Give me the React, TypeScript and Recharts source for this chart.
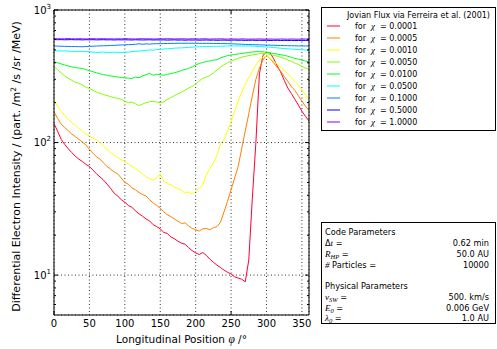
import React from 'react';
import { LineChart, Line, XAxis, YAxis, CartesianGrid, Legend } from 'recharts';

// longitude grid, degrees
const phi = [
  0, 5, 10, 15, 20, 25, 30, 35, 40, 45, 50, 55, 60, 65, 70, 75, 80, 85, 90, 95,
  100, 105, 110, 115, 120, 125, 130, 135, 140, 145, 150, 155, 160, 165, 170, 175, 180, 185, 190, 195,
  200, 205, 210, 215, 220, 225, 230, 235, 240, 245, 250, 255, 260, 265, 270, 275, 280, 285, 290, 295,
  300, 305, 310, 315, 320, 325, 330, 335, 340, 345, 350, 355, 360,
];

const chiLabels = ['0.0001', '0.0005', '0.0010', '0.0050', '0.0100', '0.0500', '0.1000', '0.5000', '1.0000'];
const colors = ['#ff0030', '#ff8000', '#ffff00', '#80ff00', '#00ff20', '#00ffff', '#0080ff', '#0000ff', '#8000ff'];

const chi0001 = [
  139, 122, 106, 97, 90, 84, 79, 75, 72, 68.5, 66, 62, 58, 55, 52, 48.5, 45, 41.5, 39.5, 37,
  35.5, 33.5, 32.5, 30.5, 29, 27.8, 26.5, 25.6, 24, 23.2, 22.3, 21, 20.6, 19.4, 18.8, 18, 17.4, 17.1, 16.1, 15.3,
  14.7, 14.3, 14.8, 14.1, 13.2, 12.5, 11.9, 11.4, 10.9, 10.5, 10.2, 9.7, 9.5, 9.3, 8.9, 13, 38, 100, 330, 455,
  480, 475, 430, 380, 340, 295, 258, 235, 212, 192, 172, 158, 145,
];
const chi0005 = [
  171, 152, 138, 130, 123, 116, 111, 106, 101, 96, 89, 83, 78, 75, 70, 66, 63, 60, 58, 54,
  50, 48.5, 45.5, 44, 42, 40.5, 39.5, 37, 35, 33.5, 32, 30, 28.5, 27.6, 26.5, 25.5, 24.5, 24.8, 23.5, 22.5,
  22, 21.5, 22.3, 22.5, 22, 22.8, 23.2, 25, 30, 36, 44, 54, 66, 90, 122, 165, 225, 300, 365, 420,
  455, 430, 400, 370, 345, 315, 290, 265, 248, 225, 205, 188, 175,
];
const chi0010 = [
  209, 188, 172, 160, 150, 141, 135, 128, 122, 116, 112, 108, 104, 100, 94, 88, 84, 80, 77, 74,
  72, 69, 66, 64, 61, 58, 55, 53.5, 52, 54, 58, 51, 49, 48, 46, 45, 43.5, 41.5, 42.5, 41,
  43, 45, 48, 57, 64, 70, 80, 98, 105, 122, 145, 172, 205, 240, 275, 310, 345, 385, 420, 440,
  450, 430, 410, 390, 370, 350, 330, 310, 290, 270, 250, 230, 209,
];
const chi0050 = [
  373, 355, 335, 320, 305, 295, 285, 280, 272, 262, 255, 248, 240, 235, 230, 226, 222, 218, 215, 212,
  205, 200, 202, 196, 190, 195, 200, 203, 205, 202, 200, 203, 212, 218, 226, 233, 240, 248, 258, 265,
  275, 292, 305, 312, 320, 335, 352, 370, 385, 400, 412, 422, 432, 440, 447, 453, 458, 463, 468, 472,
  468, 462, 455, 448, 440, 432, 420, 410, 398, 388, 375, 365, 358,
];
const chi0100 = [
  407, 400, 392, 385, 378, 373, 368, 365, 362, 355, 348, 342, 336, 330, 325, 322, 318, 315, 312, 310,
  307, 306, 304, 312, 308, 318, 325, 333, 322, 327, 325, 322, 326, 332, 336, 342, 350, 356, 362, 372,
  385, 395, 402, 408, 413, 418, 422, 435, 445, 452, 458, 462, 466, 470, 474, 478, 482, 485, 485, 484,
  480, 475, 470, 465, 460, 455, 448, 440, 432, 425, 418, 412, 407,
];
const chi0500 = [
  493, 492, 490, 491, 489, 488, 488, 486, 485, 486, 484, 482, 478, 480, 481, 479, 478, 480, 479, 477,
  482, 480, 485, 488, 490, 494, 496, 500, 498, 503, 505, 508, 510, 512, 515, 517, 518, 520, 522, 524,
  526, 528, 529, 530, 531, 532, 532, 533, 534, 535, 535, 536, 536, 535, 535, 535, 534, 532, 530, 528,
  526, 524, 521, 518, 515, 512, 510, 507, 505, 503, 501, 499, 497,
];
const chi1000 = [
  535, 534, 533, 532, 531, 530, 530, 529, 528, 530, 532, 533, 535, 536, 537, 538, 540, 541, 543, 545,
  546, 548, 549, 551, 556, 552, 555, 553, 556, 557, 558, 558, 559, 560, 560, 561, 561, 561, 562, 561,
  561, 560, 560, 560, 560, 559, 559, 558, 558, 557, 556, 555, 553, 552, 550, 549, 548, 547, 546, 545,
  544, 543, 542, 541, 540, 539, 538, 537, 537, 536, 536, 535, 535,
];
const chi5000 = [
  598, 597, 598, 596, 597, 598, 596, 597, 595, 597, 596, 597, 595, 596, 597, 595, 596, 594, 596, 595,
  596, 595, 594, 596, 595, 594, 595, 596, 594, 595, 594, 595, 593, 594, 595, 593, 594, 592, 594, 593,
  594, 592, 593, 594, 592, 593, 591, 592, 593, 591, 592, 593, 591, 592, 590, 591, 592, 590, 591, 590,
  591, 589, 590, 591, 589, 590, 589, 590, 588, 589, 590, 589, 590,
];
const chi10000 = [
  606, 607, 605, 606, 608, 606, 605, 607, 606, 604, 606, 607, 605, 606, 607, 605, 606, 604, 606, 605,
  607, 606, 605, 604, 606, 607, 605, 606, 604, 605, 606, 605, 607, 606, 604, 605, 606, 605, 604, 606,
  605, 604, 606, 605, 603, 605, 604, 606, 604, 603, 605, 604, 603, 605, 604, 602, 604, 603, 605, 603,
  602, 604, 603, 602, 604, 603, 602, 604, 603, 602, 603, 604, 603,
];

const seriesValues = [chi0001, chi0005, chi0010, chi0050, chi0100, chi0500, chi1000, chi5000, chi10000];

const xTicks = [0, 50, 100, 150, 200, 250, 300, 350];
const yMajor = [10, 100, 1000];
const yMinor = [6, 7, 8, 9, 20, 30, 40, 50, 60, 70, 80, 90, 200, 300, 400, 500, 600, 700, 800, 900];
const yAll = [...yMinor.slice(0, 4), 10, ...yMinor.slice(4, 12), 100, ...yMinor.slice(12), 1000];

const rows = phi.map((p, i) => {
  const row: Record<string, number> = { phi: p };
  seriesValues.forEach((vals, k) => {
    row[`s${k}`] = vals[i];
  });
  return row;
});

const FONT = 'DejaVu Sans';
const MATH = 'Liberation Serif';

const PowerTick = (props: any) => {
  const { x, y, payload } = props;
  const exp = Math.round(Math.log10(payload.value));
  return (
    <text x={x} y={y} textAnchor="end" fontSize={10} fontFamily={FONT} fill="#000">
      <tspan dy={3.5}>10</tspan>
      <tspan dy={-5} fontSize={7}>{exp}</tspan>
    </text>
  );
};

const XTickLabel = (props: any) => {
  const { x, y, payload } = props;
  return (
    <text x={x} y={y} dy={9} textAnchor="middle" fontSize={10} fontFamily={FONT} fill="#000">
      {payload.value}
    </text>
  );
};

const inTick = (side: string, majors: number[]) => (props: any) => {
  const { x, y, payload } = props;
  const len = majors.includes(payload.value) ? 4 : 2;
  let dx = 0;
  let dy = 0;
  if (side === 'left') dx = len;
  if (side === 'right') dx = -len;
  if (side === 'top') dy = len;
  if (side === 'bottom') dy = -len;
  return <line x1={x} y1={y} x2={x + dx} y2={y + dy} stroke="#000" strokeWidth={1} />;
};

const renderLegend = (props: any) => {
  const items = props.payload || [];
  return (
    <svg width={175} height={124} style={{ display: 'block' }}>
      <rect x={0.5} y={0.5} width={174} height={123} fill="#fff" stroke="#000" />
      <text x={26} y={11} fontSize={8} fontFamily={FONT} fill="#000">
        Jovian Flux via Ferreira et al. (2001)
      </text>
      {items.map((it: any, i: number) => {
        const cy = 19 + 12 * i;
        return (
          <g key={it.value}>
            <line x1={6} x2={19} y1={cy} y2={cy} stroke={it.color} strokeWidth={1} />
            <text x={34} y={cy + 3} fontSize={8} fontFamily={FONT} fill="#000">for</text>
            <text x={50} y={cy + 3} fontSize={9} fontFamily={MATH} fontStyle="italic" fill="#000">χ</text>
            <text x={59} y={cy + 3} fontSize={8} fontFamily={FONT} fill="#000">= {it.value}</text>
          </g>
        );
      })}
    </svg>
  );
};

const paramRows = [
  { y: 10, head: 'Code Parameters' },
  { y: 21, sym: 'Δ', it: 't', sub: '', rest: ' =', val: '0.62 min' },
  { y: 32, sym: '', it: 'R', sub: 'HP', rest: ' =', val: '50.0 AU' },
  { y: 43, sym: '', it: '#', sub: '', rest: ' Particles =', val: '10000' },
  { y: 64, head: 'Physical Parameters' },
  { y: 75, sym: '', it: 'v', sub: 'SW', rest: ' =', val: '500. km/s' },
  { y: 85.5, sym: '', it: 'E', sub: '0', rest: ' =', val: '0.006 GeV' },
  { y: 96, sym: '', it: 'λ', sub: '0', rest: ' =', val: '1.0 AU' },
];

function ParamBox() {
  const fs = 8.2;
  return (
    <svg width={175} height={102} style={{ position: 'absolute', left: 321, top: 222 }}>
      <rect x={0.5} y={0.5} width={174} height={101} fill="#fff" stroke="#000" />
      {paramRows.map((r, i) =>
        r.head ? (
          <text key={i} x={4} y={r.y + 3} fontSize={fs} fontFamily={FONT} fill="#000">{r.head}</text>
        ) : (
          <g key={i}>
            <text x={4} y={r.y + 3} fontSize={fs} fontFamily={FONT} fill="#000">
              {r.sym}
              <tspan fontFamily={MATH} fontStyle="italic" fontSize={9}>{r.it}</tspan>
              {r.sub ? (
                <tspan fontFamily={MATH} fontStyle="italic" fontSize={6.5} dy={2}>{r.sub}</tspan>
              ) : null}
              <tspan dy={r.sub ? -2 : 0}>{r.rest}</tspan>
            </text>
            <text x={168} y={r.y + 3} textAnchor="end" fontSize={fs} fontFamily={FONT} fill="#000">{r.val}</text>
          </g>
        ),
      )}
    </svg>
  );
}

export default function App() {
  return (
    <div style={{ position: 'absolute', left: 0, top: 0, width: 497, height: 349, background: '#fff' }}>
      <LineChart width={497} height={349} data={rows} margin={{ top: 10, right: 188, bottom: 4, left: 10 }}>
        <CartesianGrid xAxisId="x" yAxisId="y" stroke="#000" strokeWidth={0.8} strokeDasharray="1 2.5" />
        <XAxis
          xAxisId="x"
          dataKey="phi"
          type="number"
          domain={[0, 360]}
          allowDataOverflow
          ticks={xTicks}
          interval={0}
          height={30}
          tickSize={0}
          tickMargin={3}
          tickLine={false}
          axisLine={{ stroke: '#000', strokeWidth: 1 }}
          tick={XTickLabel}
          label={{
            content: (p: any) => {
              const vb = p.viewBox;
              return (
                <text x={vb.x + vb.width / 2} y={vb.y + 28} textAnchor="middle" fontSize={10.5} fontFamily={FONT} fill="#000">
                  Longitudinal Position{'  '}
                  <tspan fontFamily={MATH} fontStyle="italic" fontSize={11.5}>φ</tspan>
                  <tspan> /°</tspan>
                </text>
              );
            },
          }}
        />
        <XAxis
          xAxisId="xt"
          orientation="top"
          mirror
          type="number"
          domain={[0, 360]}
          allowDataOverflow
          ticks={xTicks}
          interval={0}
          tickSize={0}
          tickMargin={0}
          tickLine={false}
          axisLine={{ stroke: '#000', strokeWidth: 1 }}
          tick={inTick('top', xTicks)}
        />
        <XAxis
          xAxisId="xb"
          orientation="bottom"
          mirror
          type="number"
          domain={[0, 360]}
          allowDataOverflow
          ticks={xTicks}
          interval={0}
          tickSize={0}
          tickMargin={0}
          tickLine={false}
          axisLine={false}
          tick={inTick('bottom', xTicks)}
        />
        <YAxis
          yAxisId="y"
          type="number"
          scale="log"
          domain={[5, 1000]}
          allowDataOverflow
          ticks={yMajor}
          interval={0}
          width={44}
          tickSize={0}
          tickMargin={3}
          tickLine={false}
          axisLine={{ stroke: '#000', strokeWidth: 1 }}
          tick={PowerTick}
          label={{
            content: (p: any) => {
              const vb = p.viewBox;
              const cx = vb.x + 10;
              const cy = vb.y + vb.height / 2 + 4;
              return (
                <text transform={`translate(${cx},${cy}) rotate(-90)`} textAnchor="middle" fontSize={11} fontFamily={FONT} fill="#000">
                  Differential Electron Intensity / (part. /m
                  <tspan dy={-4} fontSize={7.5}>2</tspan>
                  <tspan dy={4}> /s /sr /MeV)</tspan>
                </text>
              );
            },
          }}
        />
        <YAxis
          yAxisId="yl"
          orientation="left"
          mirror
          type="number"
          scale="log"
          domain={[5, 1000]}
          allowDataOverflow
          ticks={yAll}
          interval={0}
          tickSize={0}
          tickMargin={0}
          tickLine={false}
          axisLine={false}
          tick={inTick('left', yMajor)}
        />
        <YAxis
          yAxisId="yr"
          orientation="right"
          mirror
          type="number"
          scale="log"
          domain={[5, 1000]}
          allowDataOverflow
          ticks={yAll}
          interval={0}
          tickSize={0}
          tickMargin={0}
          tickLine={false}
          axisLine={{ stroke: '#000', strokeWidth: 1 }}
          tick={inTick('right', yMajor)}
        />
        {seriesValues.map((_, k) => (
          <Line
            key={k}
            xAxisId="x"
            yAxisId="y"
            type="linear"
            dataKey={`s${k}`}
            name={chiLabels[k]}
            stroke={colors[k]}
            strokeWidth={1}
            dot={false}
            activeDot={false}
            isAnimationActive={false}
          />
        ))}
        <Legend
          layout="vertical"
          align="center"
          verticalAlign="middle"
          width={175}
          height={124}
          wrapperStyle={{ left: 321, top: 7, width: 175, height: 124 }}
          content={renderLegend}
        />
      </LineChart>
      <ParamBox />
    </div>
  );
}
